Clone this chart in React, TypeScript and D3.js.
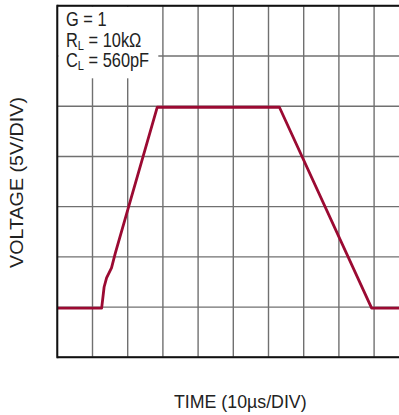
import React from "react";
import * as d3 from "d3";

const W = 399;
const H = 415;

// time in µs, voltage in V
const traceTime = [0, 12.6, 13.3, 14.0, 15.4, 16.5, 28.4, 63.1, 89.3, 100];
const traceVolt = [-10.1, -10.1, -8.0, -7.1, -6.1, -4.6, 9.9, 9.9, -10.1, -10.1];

const xTicks = [0, 10, 20, 30, 40, 50, 60, 70, 80, 90, 100];
const yTicks = [-15, -10, -5, 0, 5, 10, 15, 20];

const annotations = ["G = 1", "R|L| = 10kΩ", "C|L| = 560pF"];
const xLabel = "TIME (10µs/DIV)";
const yLabel = "VOLTAGE (5V/DIV)";

const FONT = "'Liberation Sans Narrow', 'Liberation Sans', Arial, sans-serif";

export default function App() {
  const x = d3.scaleLinear().domain([0, 100]).range([57.3, 409.3]);
  const y = d3.scaleLinear().domain([-15, 20]).range([357.3, 5.8]);
  const pts: [number, number][] = traceTime.map((t, i) => [t, traceVolt[i]]);
  const line = d3
    .line<[number, number]>()
    .x((d) => x(d[0]))
    .y((d) => y(d[1]));

  const renderAnn = (s: string, i: number) => {
    const parts = s.split("|");
    const yy = 26.3 + i * 20.3;
    const tf = `translate(66, ${yy}) scale(0.82, 1)`;
    if (parts.length === 1) {
      return (
        <text key={i} transform={tf} fontSize={20} fontFamily={FONT} fill="#222">
          {s}
        </text>
      );
    }
    return (
      <text key={i} transform={tf} fontSize={20} fontFamily={FONT} fill="#222">
        {parts[0]}
        <tspan fontSize={13.5} dy={3}>{parts[1]}</tspan>
        <tspan dy={-3}>{parts[2]}</tspan>
      </text>
    );
  };

  return (
    <svg
      width={W}
      height={H}
      style={{ position: "absolute", left: 0, top: 0, background: "#fff" }}
    >
      <defs>
        <clipPath id="clip">
          <rect x={0} y={0} width={W} height={H} />
        </clipPath>
      </defs>
      <g clipPath="url(#clip)">
        {xTicks.map((t) => (
          <line
            key={"vx" + t}
            x1={x(t)}
            x2={x(t)}
            y1={y(20)}
            y2={y(-15)}
            stroke="#707070"
            strokeWidth={1.4}
          />
        ))}
        {yTicks.map((v) => (
          <line
            key={"hy" + v}
            x1={x(0)}
            x2={x(100)}
            y1={y(v)}
            y2={y(v)}
            stroke="#707070"
            strokeWidth={1.4}
          />
        ))}
        <rect x={x(0) + 1} y={y(20) + 1} width={100} height={71.5} fill="#fff" />
        <path
          d={line(pts) || ""}
          fill="none"
          stroke="#9b0a32"
          strokeWidth={2.8}
          strokeLinejoin="round"
        />
        <line x1={x(0)} x2={x(100)} y1={y(20)} y2={y(20)} stroke="#111" strokeWidth={2} />
        <line x1={x(0)} x2={x(100)} y1={y(-15)} y2={y(-15)} stroke="#111" strokeWidth={2} />
        <line x1={x(0)} x2={x(0)} y1={y(20) - 1} y2={y(-15) + 1} stroke="#111" strokeWidth={2} />
      </g>
      {annotations.map(renderAnn)}
      <text
        x={240.3}
        y={408.3}
        textAnchor="middle"
        fontSize={18}
        fontFamily={FONT}
        fill="#222"
        textLength={132.7}
        lengthAdjust="spacingAndGlyphs"
      >
        {xLabel}
      </text>
      <text
        transform={`translate(22.7, 182.5) rotate(-90)`}
        textAnchor="middle"
        fontSize={18}
        fontFamily={FONT}
        fill="#222"
        textLength={171}
        lengthAdjust="spacingAndGlyphs"
      >
        {yLabel}
      </text>
    </svg>
  );
}
